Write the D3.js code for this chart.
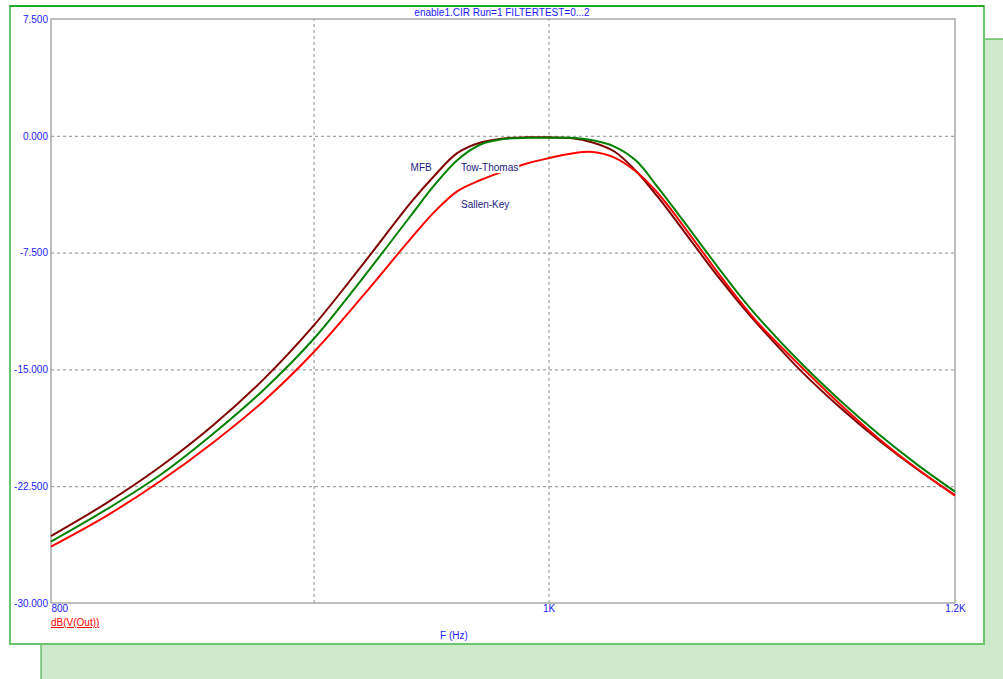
<!DOCTYPE html>
<html>
<head>
<meta charset="utf-8">
<script src="https://cdn.jsdelivr.net/npm/d3@7"></script>
<style>
  body { margin: 0; background: #ffffff; }
  svg { display: block; font-family: "Liberation Sans", Arial, sans-serif; }
</style>
</head>
<body>
<svg id="chart" width="1003" height="679"></svg>
<script>
// Frequency sweep (Hz) shared by the three band-pass filter responses
const freqHz = [800, 820, 840, 860, 880, 900, 920, 940, 950, 960, 970, 980, 990, 1000,
  1010, 1020, 1030, 1040, 1050, 1060, 1070, 1080, 1090, 1100, 1120, 1140, 1160, 1180, 1200];

// Gain in dB of V(Out) for each topology
const mfbDb = [-25.70, -23.60, -21.27, -18.64, -15.64, -12.19, -8.27, -4.30, -2.58, -1.10, -0.43, -0.17, -0.10, -0.10,
  -0.14, -0.43, -1.01, -2.26, -3.88, -5.66, -7.46, -9.21, -10.84, -12.34, -15.11, -17.48, -19.58, -21.43, -23.07];
const towThomasDb = [-26.06, -24.01, -21.80, -19.18, -16.32, -13.05, -9.15, -5.15, -3.19, -1.55, -0.56, -0.21, -0.13, -0.13,
  -0.13, -0.29, -0.69, -1.59, -3.26, -5.04, -6.84, -8.62, -10.32, -11.87, -14.61, -17.03, -19.20, -21.13, -22.85];
const sallenKeyDb = [-26.38, -24.42, -22.20, -19.74, -17.04, -13.90, -10.30, -6.62, -4.90, -3.55, -2.84, -2.28, -1.79, -1.44,
  -1.15, -1.04, -1.40, -2.29, -3.64, -5.36, -7.18, -8.98, -10.68, -12.23, -14.83, -17.27, -19.48, -21.40, -23.11];

const seriesNames = ["MFB", "Tow-Thomas", "Sallen-Key"];
const seriesColors = ["#800000", "#008000", "#ff0000"];

// Axis ticks
const yTickValues = [7.5, 0, -7.5, -15, -22.5, -30];
const xTickValues = [800, 900, 1000, 1200];
const xTickLabels = ["800", "", "1K", "1.2K"];

const titleText = "enable1.CIR Run=1 FILTERTEST=0...2";
const xTitle = "F (Hz)";
const yTitle = "dB(V(Out))";

const svg = d3.select("#chart");
const W = 1003, H = 679;

// Background panels
svg.append("rect").attr("x", 41).attr("y", 39).attr("width", W).attr("height", H)
  .attr("fill", "#cdeacd").attr("stroke", "#2aa52a").attr("stroke-width", 1);
svg.append("rect").attr("x", 10).attr("y", 6).attr("width", 974).attr("height", 638)
  .attr("fill", "#ffffff").attr("stroke", "#6cc46c").attr("stroke-width", 2);
svg.append("line").attr("x1", 10).attr("x2", 984).attr("y1", 6).attr("y2", 6)
  .attr("stroke", "#22a822").attr("stroke-width", 2);

const plot = { left: 51, right: 955, top: 19, bottom: 603 };

const x = d3.scaleLog().domain([800, 1200]).range([plot.left, plot.right]);
const y = d3.scaleLinear().domain([-30, 7.5]).range([plot.bottom, plot.top]);

const fmt = d3.formatLocale({ decimal: ".", thousands: ",", grouping: [3], currency: ["", ""], minus: "-" }).format(".3f");

// Grid lines
const gridY = svg.append("g").attr("transform", `translate(${plot.left},0)`)
  .call(d3.axisLeft(y).tickValues(yTickValues.filter(v => v > -30 && v < 7.5))
    .tickSize(-(plot.right - plot.left)).tickFormat(""));
gridY.select(".domain").remove();
gridY.selectAll("line").attr("stroke", "#8c8c8c").attr("stroke-dasharray", "3,3");

const gridX = svg.append("g").attr("transform", `translate(0,${plot.bottom})`)
  .call(d3.axisBottom(x).tickValues(xTickValues.filter(v => v > 800 && v < 1200))
    .tickSize(-(plot.bottom - plot.top)).tickFormat(""));
gridX.select(".domain").remove();
gridX.selectAll("line").attr("stroke", "#8c8c8c").attr("stroke-dasharray", "3,3");

// Plot frame
svg.append("rect").attr("x", plot.left).attr("y", plot.top)
  .attr("width", plot.right - plot.left).attr("height", plot.bottom - plot.top)
  .attr("fill", "none").attr("stroke", "#a8a8a8").attr("stroke-width", 1.5);

// Y tick labels
const yAxis = svg.append("g").attr("transform", `translate(${plot.left},0)`)
  .call(d3.axisLeft(y).tickValues(yTickValues).tickFormat(fmt).tickSize(0).tickPadding(3));
yAxis.select(".domain").remove();
yAxis.selectAll("text").attr("fill", "#1a1aff").style("font-size", "10px")
  .style("font-family", "'Liberation Sans', Arial, sans-serif");

// X tick labels
const xLabelMap = new Map(xTickValues.map((v, i) => [v, xTickLabels[i]]));
const xAxis = svg.append("g").attr("transform", `translate(0,${plot.bottom})`)
  .call(d3.axisBottom(x).tickValues(xTickValues.filter(v => xLabelMap.get(v) !== ""))
    .tickFormat(v => xLabelMap.get(v)).tickSize(0).tickPadding(2));
xAxis.select(".domain").remove();
xAxis.selectAll("text").attr("fill", "#1a1aff").style("font-size", "10px")
  .style("font-family", "'Liberation Sans', Arial, sans-serif")
  .attr("text-anchor", d => d === 800 ? "start" : "middle");

// Titles
svg.append("text").attr("x", 502).attr("y", 16).attr("text-anchor", "middle")
  .attr("fill", "#1a1aff").style("font-size", "10px").text(titleText);
svg.append("text").attr("x", 454).attr("y", 639).attr("text-anchor", "middle")
  .attr("fill", "#1a1aff").style("font-size", "10px").text(xTitle);
svg.append("text").attr("x", 51).attr("y", 626).attr("text-anchor", "start")
  .attr("fill", "#ff0000").style("font-size", "10px").style("text-decoration", "underline").text(yTitle);

// Response curves
const series = [mfbDb, towThomasDb, sallenKeyDb];
const line = d3.line()
  .x(d => x(d[0]))
  .y(d => y(d[1]))
  .curve(d3.curveCatmullRom.alpha(0.5));

const curves = svg.append("g");
series.forEach((vals, i) => {
  curves.append("path")
    .datum(freqHz.map((f, k) => [f, vals[k]]))
    .attr("d", line)
    .attr("fill", "none")
    .attr("stroke", seriesColors[i])
    .attr("stroke-width", 2)
    .attr("stroke-linejoin", "round");
});

// Series labels (anchored in frequency / dB coordinates)
const labelAnchors = [[940, -2.04], [961.5, -2.04], [961.5, -4.40]];
const labels = svg.append("g");
seriesNames.forEach((name, i) => {
  const g = labels.append("g");
  const t = g.append("text")
    .attr("x", x(labelAnchors[i][0])).attr("y", y(labelAnchors[i][1]))
    .attr("dy", "0.35em")
    .attr("fill", "#1a1a80").style("font-size", "10px").text(name);
  const bb = t.node().getBBox();
  g.insert("rect", "text").attr("x", bb.x - 1).attr("y", bb.y)
    .attr("width", bb.width + 2).attr("height", bb.height).attr("fill", "#ffffff");
});
</script>
</body>
</html>
